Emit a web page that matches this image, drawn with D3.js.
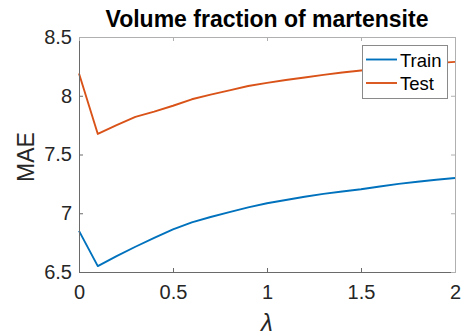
<!DOCTYPE html>
<html>
<head>
<meta charset="utf-8">
<script src="https://cdn.jsdelivr.net/npm/d3@7.9.0/dist/d3.min.js"></script>
<style>
  body { margin: 0; background: #fff; }
  svg { display: block; font-family: "Liberation Sans", Arial, sans-serif; }
</style>
</head>
<body>
<svg id="chart" width="465" height="336"></svg>
<script>
// lambda values and MAE readings
const lambdas = [0, 0.1, 0.2, 0.3, 0.4, 0.5, 0.6, 0.7, 0.8, 0.9, 1.0,
                 1.1, 1.2, 1.3, 1.4, 1.5, 1.6, 1.7, 1.8, 1.9, 2.0];
const trainMAE = [6.85, 6.55, 6.635, 6.715, 6.79, 6.862, 6.922, 6.968, 7.01, 7.05, 7.085,
                  7.113, 7.14, 7.165, 7.185, 7.204, 7.228, 7.25, 7.268, 7.285, 7.30];
const testMAE = [8.19, 7.675, 7.75, 7.82, 7.865, 7.915, 7.97, 8.01, 8.046, 8.083, 8.11,
                 8.134, 8.155, 8.178, 8.198, 8.215, 8.235, 8.25, 8.265, 8.278, 8.288];
const xTicks = [0, 0.5, 1, 1.5, 2];
const yTicks = [6.5, 7, 7.5, 8, 8.5];
const seriesNames = ["Train", "Test"];
const colors = ["#0072BD", "#D95319"];

const svg = d3.select("#chart");
const pLeft = 79, pRight = 455, pTop = 37, pBottom = 272;

const x = d3.scaleLinear().domain([0, 2]).range([pLeft, pRight]);
const y = d3.scaleLinear().domain([6.5, 8.5]).range([pBottom, pTop]);

// white plot background
svg.append("rect")
    .attr("x", pLeft).attr("y", pTop)
    .attr("width", pRight - pLeft).attr("height", pBottom - pTop)
    .attr("fill", "#fff");

// lines
const series = [trainMAE, testMAE];
const line = d3.line()
    .x((d, i) => x(lambdas[i]))
    .y(d => y(d));

series.forEach((s, k) => {
    svg.append("path")
        .datum(s)
        .attr("d", line)
        .attr("fill", "none")
        .attr("stroke", colors[k])
        .attr("stroke-width", 1.9)
        .attr("stroke-linejoin", "round");
});

// axes (ticks pointing inward, box around)
function styleAxis(g, color) {
    g.select(".domain").attr("stroke", color);
    g.selectAll(".tick line").attr("stroke", color);
    g.selectAll(".tick text")
        .attr("fill", "#262626")
        .style("font-size", "20px")
        .style("font-family", "'Liberation Sans', Arial, sans-serif");
}

const fmt = d => d3.format("~g")(d);

svg.append("g")
    .attr("transform", `translate(0,${pBottom})`)
    .call(d3.axisBottom(x).tickValues(xTicks).tickFormat(fmt).tickSize(-4).tickSizeOuter(0).tickPadding(13))
    .call(g => styleAxis(g, "#6a6a6a"));

svg.append("g")
    .attr("transform", `translate(${pLeft},0)`)
    .call(d3.axisLeft(y).tickValues(yTicks).tickFormat(fmt).tickSize(-4).tickSizeOuter(0).tickPadding(7))
    .call(g => styleAxis(g, "#6a6a6a"));

svg.append("g")
    .attr("transform", `translate(0,${pTop})`)
    .call(d3.axisTop(x).tickValues(xTicks).tickFormat("").tickSize(-4).tickSizeOuter(0))
    .call(g => styleAxis(g, "#b0b0b0"));

svg.append("g")
    .attr("transform", `translate(${pRight},0)`)
    .call(d3.axisRight(y).tickValues(yTicks).tickFormat("").tickSize(-4).tickSizeOuter(0))
    .call(g => styleAxis(g, "#b0b0b0"));

svg.selectAll(".domain").attr("stroke-width", 1);

// title
svg.append("text")
    .attr("x", (pLeft + pRight) / 2)
    .attr("y", 27)
    .attr("text-anchor", "middle")
    .attr("font-weight", "bold")
    .attr("font-size", 23)
    .attr("fill", "#000")
    .text("Volume fraction of martensite");

// y label
svg.append("text")
    .attr("transform", `translate(34,157) rotate(-90)`)
    .attr("text-anchor", "middle")
    .attr("font-size", 23)
    .attr("fill", "#262626")
    .text("MAE");

// x label
svg.append("text")
    .attr("x", (pLeft + pRight) / 2)
    .attr("y", 331)
    .attr("text-anchor", "middle")
    .attr("font-size", 24)
    .attr("font-style", "italic")
    .attr("fill", "#262626")
    .text("λ");

// legend
const lg = svg.append("g");
lg.append("rect")
    .attr("x", 362.5).attr("y", 45.5)
    .attr("width", 85).attr("height", 53)
    .attr("fill", "#fff")
    .attr("stroke", "#8a8a8a")
    .attr("stroke-width", 1);

seriesNames.forEach((name, k) => {
    const ly = 59.5 + k * 23.5;
    lg.append("line")
        .attr("x1", 366).attr("x2", 397)
        .attr("y1", ly).attr("y2", ly)
        .attr("stroke", colors[k])
        .attr("stroke-width", 1.9);
    lg.append("text")
        .attr("x", 400)
        .attr("y", ly + 7)
        .attr("font-size", 18.5)
        .attr("fill", "#000")
        .text(name);
});
</script>
</body>
</html>
